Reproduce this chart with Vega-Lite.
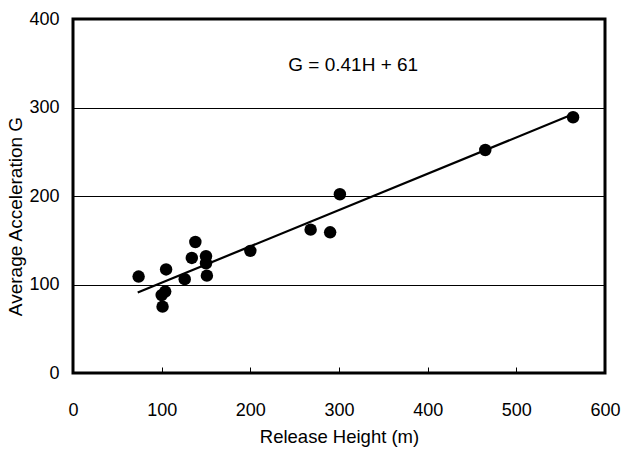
{
  "$schema": "https://vega.github.io/schema/vega-lite/v6.json",
  "autosize": {"type": "none"},
  "width": 532,
  "height": 354,
  "padding": {"left": 73, "top": 19, "right": 19, "bottom": 76},
  "background": "white",
  "config": {
    "view": {"stroke": "black", "strokeWidth": 3},
    "font": "Liberation Sans",
    "axis": {
      "labelFont": "Liberation Sans",
      "titleFont": "Liberation Sans",
      "labelColor": "black",
      "titleColor": "black",
      "labelFontSize": 18,
      "titleFontSize": 18.5,
      "titleFontWeight": "normal",
      "domain": false
    }
  },
  "datasets": {
    "pts": [
      {"H": 74, "G": 109},
      {"H": 100, "G": 88},
      {"H": 104, "G": 92},
      {"H": 101, "G": 75},
      {"H": 105, "G": 117},
      {"H": 126, "G": 106},
      {"H": 134, "G": 130},
      {"H": 138, "G": 148},
      {"H": 150, "G": 132},
      {"H": 150, "G": 124},
      {"H": 151, "G": 110},
      {"H": 200, "G": 138},
      {"H": 268, "G": 162},
      {"H": 290, "G": 159},
      {"H": 301, "G": 202},
      {"H": 465, "G": 252},
      {"H": 564, "G": 289}
    ],
    "fit": [
      {"H": 73, "G": 91},
      {"H": 563, "G": 292}
    ],
    "eq": [
      {"H": 316, "G": 348, "label": "G = 0.41H + 61"}
    ]
  },
  "layer": [
    {
      "data": {"name": "pts"},
      "mark": {"type": "point", "filled": true, "color": "black", "opacity": 1, "size": 155},
      "encoding": {
        "x": {
          "field": "H", "type": "quantitative",
          "scale": {"domain": [0, 600], "nice": false},
          "axis": {
            "title": "Release Height (m)",
            "values": [0, 100, 200, 300, 400, 500, 600],
            "grid": false,
            "ticks": true,
            "tickSize": -6,
            "tickColor": "black",
            "tickWidth": 1,
            "labelPadding": 34,
            "titlePadding": 8,
            "labelFlush": false
          }
        },
        "y": {
          "field": "G", "type": "quantitative",
          "scale": {"domain": [0, 400], "nice": false},
          "axis": {
            "title": "Average Acceleration G",
            "values": [0, 100, 200, 300, 400],
            "grid": true,
            "gridColor": "black",
            "gridWidth": 1,
            "gridOpacity": 1,
            "ticks": false,
            "labelPadding": 14,
            "titleX": -48,
            "titleY": 197,
            "titleAngle": -90,
            "titleAlign": "center",
            "titleBaseline": "bottom",
            "titleFontSize": 19
          }
        }
      }
    },
    {
      "data": {"name": "fit"},
      "mark": {"type": "line", "color": "black", "strokeWidth": 2.2},
      "encoding": {
        "x": {"field": "H", "type": "quantitative"},
        "y": {"field": "G", "type": "quantitative"}
      }
    },
    {
      "data": {"name": "eq"},
      "mark": {"type": "text", "fontSize": 19, "font": "Liberation Sans", "color": "black"},
      "encoding": {
        "x": {"field": "H", "type": "quantitative"},
        "y": {"field": "G", "type": "quantitative"},
        "text": {"field": "label"}
      }
    }
  ]
}
